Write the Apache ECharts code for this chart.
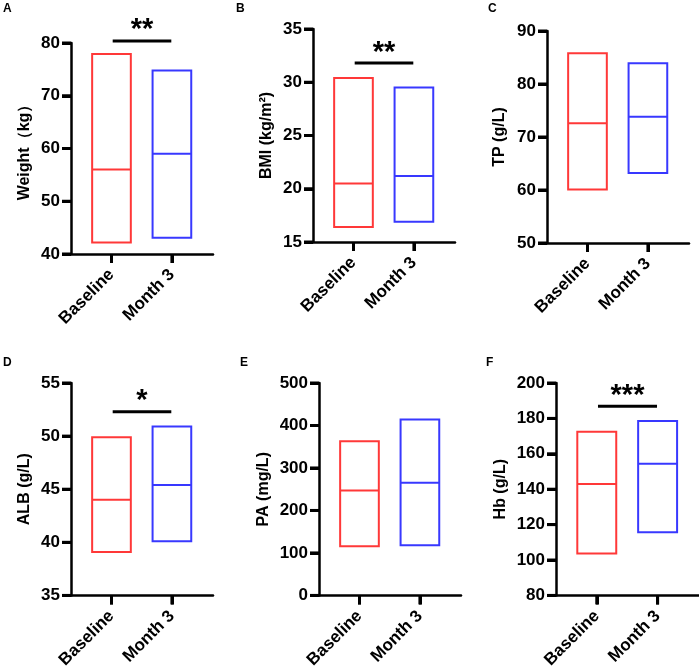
<!DOCTYPE html>
<html>
<head>
<meta charset="utf-8">
<script src="https://cdn.jsdelivr.net/npm/echarts@6/dist/echarts.min.js"></script>
<style>
  html, body { margin: 0; padding: 0; background: #fff; }
  #chart { width: 699px; height: 671px; }
</style>
</head>
<body>
<div id="chart"></div>
<script>
// groups on the x axis
var categories = ['Baseline', 'Month 3'];

// [min, median, max] for Baseline and Month 3
var weight = [[42.2, 56.0, 77.9], [43.1, 59.0, 74.8]];
var bmi    = [[16.4, 20.5, 30.4], [16.9, 21.2, 29.5]];
var tp     = [[60.1, 72.6, 85.8], [63.2, 73.8, 83.9]];
var alb    = [[39.1, 44.0, 49.9], [40.1, 45.4, 50.9]];
var pa     = [[116, 247, 363], [118, 265, 414]];
var hb     = [[103.7, 142.9, 172.4], [115.7, 154.4, 178.6]];

var panelData = [weight, bmi, tp, alb, pa, hb];
var panelLetters = ['A', 'B', 'C', 'D', 'E', 'F'];
var yTitles = ['Weight（kg）', 'BMI (kg/m²)', 'TP (g/L)', 'ALB (g/L)', 'PA (mg/L)', 'Hb (g/L)'];

// y axis ticks
var yMin  = [40, 15, 50, 35, 0, 80];
var yMax  = [80, 35, 90, 55, 500, 200];
var yStep = [10, 5, 10, 5, 100, 20];

// significance bracket (stars and the level of the bar)
var sigStars = ['**', '**', '', '*', '', '***'];
var sigLevel = [80.4, 31.8, null, 52.3, null, 186.9];

// layout
var grids = [
  { left: 71,  top: 43,  width: 142, height: 211 },
  { left: 313, top: 29,  width: 142, height: 213 },
  { left: 547, top: 31,  width: 142, height: 212 },
  { left: 71,  top: 383, width: 142, height: 213 },
  { left: 319, top: 383, width: 142, height: 213 },
  { left: 556, top: 383, width: 143, height: 213 }
];
var letterPos = [[3, 3], [236, 3], [488, 3], [3, 357], [240, 357], [486, 357]];
var nameGaps = [38, 38, 39, 38, 47, 47];
var colors = ['#FF3838', '#3838FF'];
var font = 'Liberation Sans, Arial, Helvetica, sans-serif';
var xLo = -0.67, xHi = 1.68, tickLen = 9;

var option = {
  backgroundColor: '#fff',
  animation: false,
  title: [],
  grid: [],
  xAxis: [],
  yAxis: [],
  series: []
};

panelData.forEach(function (d, p) {
  option.title.push({
    text: panelLetters[p],
    left: letterPos[p][0],
    top: letterPos[p][1],
    padding: 0,
    textStyle: { fontSize: 12, fontWeight: 'bold', color: '#000', fontFamily: font }
  });
  option.grid.push(grids[p]);
  option.xAxis.push({
    type: 'value',
    gridIndex: p,
    min: xLo,
    max: xHi,
    splitLine: { show: false },
    axisLine: { onZero: false, lineStyle: { color: '#000', width: 2.5 } },
    axisTick: { show: true, customValues: [0, 1], length: tickLen, lineStyle: { color: '#000', width: 3 } },
    axisLabel: {
      customValues: [0, 1],
      formatter: function (v) { return categories[Math.round(v)]; },
      rotate: 45,
      margin: 18,
      fontSize: 17,
      fontWeight: 'bold',
      color: '#000',
      fontFamily: font
    }
  });
  option.yAxis.push({
    type: 'value',
    gridIndex: p,
    min: yMin[p],
    max: yMax[p],
    interval: yStep[p],
    name: yTitles[p],
    nameLocation: 'middle',
    nameGap: nameGaps[p],
    nameTextStyle: { fontSize: 16, fontWeight: 'bold', color: '#000', fontFamily: font },
    splitLine: { show: false },
    axisLine: { show: true, onZero: false, lineStyle: { color: '#000', width: 2.5 } },
    axisTick: { show: true, length: tickLen, lineStyle: { color: '#000', width: 3 } },
    axisLabel: { fontSize: 17, fontWeight: 'bold', color: '#000', margin: 11, fontFamily: font }
  });

  // floating boxes: min to max, line at median
  option.series.push({
    type: 'custom',
    xAxisIndex: p,
    yAxisIndex: p,
    data: d.map(function (v, i) { return [i, v[0], v[1], v[2]]; }),
    renderItem: function (params, api) {
      var x = api.value(0);
      var lo = api.coord([x, api.value(1)]);
      var md = api.coord([x, api.value(2)]);
      var hi = api.coord([x, api.value(3)]);
      var w = api.size([0.64, 0])[0];
      var c = colors[params.dataIndex];
      return {
        type: 'group',
        children: [
          { type: 'rect', shape: { x: lo[0] - w / 2, y: hi[1], width: w, height: lo[1] - hi[1] },
            style: { fill: 'none', stroke: c, lineWidth: 2 } },
          { type: 'line', shape: { x1: lo[0] - w / 2, y1: md[1], x2: lo[0] + w / 2, y2: md[1] },
            style: { stroke: c, lineWidth: 2 } }
        ]
      };
    }
  });

  // outer tick marks, placed through the axis scales
  var ticks = [];
  for (var v = yMin[p]; v <= yMax[p] + 1e-9; v += yStep[p]) ticks.push([0, v]);
  categories.forEach(function (c, i) { ticks.push([1, i]); });
  option.series.push({
    type: 'custom',
    xAxisIndex: p,
    yAxisIndex: p,
    silent: true,
    data: ticks,
    renderItem: function (params, api) {
      var kind = api.value(0), v = api.value(1);
      if (kind === 0) {
        var a = api.coord([xLo, v]);
        return { type: 'line', shape: { x1: a[0] - tickLen, y1: a[1], x2: a[0], y2: a[1] },
                 style: { stroke: '#000', lineWidth: 3 } };
      }
      var b = api.coord([v, yMin[p]]);
      return { type: 'line', shape: { x1: b[0], y1: b[1], x2: b[0], y2: b[1] + tickLen },
               style: { stroke: '#000', lineWidth: 3 } };
    }
  });

  if (sigStars[p]) {
    option.series.push({
      type: 'custom',
      xAxisIndex: p,
      yAxisIndex: p,
      data: [[0.02, 0.99, sigLevel[p]]],
      renderItem: function (params, api) {
        var a = api.coord([api.value(0), api.value(2)]);
        var b = api.coord([api.value(1), api.value(2)]);
        return {
          type: 'group',
          children: [
            { type: 'line', shape: { x1: a[0], y1: a[1], x2: b[0], y2: b[1] },
              style: { stroke: '#000', lineWidth: 3 } },
            { type: 'text', x: (a[0] + b[0]) / 2, y: a[1] + 4,
              style: { text: sigStars[p], fill: '#000', font: 'bold 29px ' + font,
                       textAlign: 'center', textVerticalAlign: 'bottom' } }
          ]
        };
      }
    });
  }
});

var myChart = echarts.init(document.getElementById('chart'));
myChart.setOption(option);
</script>
</body>
</html>
